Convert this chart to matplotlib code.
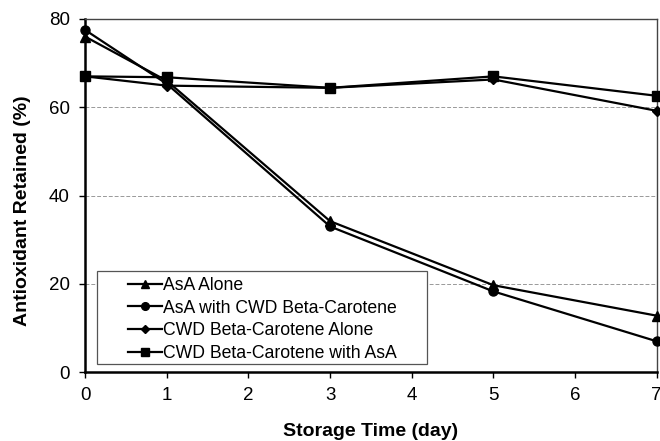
import matplotlib
matplotlib.use("Agg")
import matplotlib.pyplot as plt
from matplotlib.patches import Rectangle

plt.rcParams['font.family'] = ['Liberation Sans', 'DejaVu Sans']

days = [0, 1, 3, 5, 7]
asa_alone = [76.0, 66.0, 34.2, 19.7, 12.8]
asa_with_cwd = [77.5, 65.3, 33.0, 18.3, 7.0]
cwd_alone = [67.0, 64.9, 64.4, 66.3, 59.2]
cwd_with_asa = [67.0, 66.8, 64.4, 67.0, 62.6]
labels = ["AsA Alone", "AsA with CWD Beta-Carotene", "CWD Beta-Carotene Alone", "CWD Beta-Carotene with AsA"]
markers = ["^", "o", "D", "s"]
msizes = [6.5, 6.5, 5, 6.5]

fig = plt.figure(figsize=(6.6, 4.41), dpi=100)
ax = fig.add_axes([0.129, 0.156, 0.866, 0.801])

for y, lab, m, ms in zip([asa_alone, asa_with_cwd, cwd_alone, cwd_with_asa], labels, markers, msizes):
    ax.plot(days, y, color='black', lw=1.6, marker=m, markersize=ms, label=lab, clip_on=False, zorder=3)

ax.set_xlim(0, 7)
ax.set_ylim(0, 80)
ax.set_xticks(range(0, 8))
ax.set_yticks([0, 20, 40, 60, 80])
ax.tick_params(labelsize=13.5, length=4, width=1, direction='out', pad=7)
ax.yaxis.grid(True, color='#999999', linestyle=(0, (4, 2)), lw=0.7)
ax.set_axisbelow(True)
for s in ['left', 'bottom']:
    ax.spines[s].set_linewidth(1.8)
for s in ['top', 'right']:
    ax.spines[s].set_linewidth(1.0)
    ax.spines[s].set_color('#444444')

ax.set_xlabel("Storage Time (day)", fontsize=14, fontweight='bold')
ax.set_ylabel("Antioxidant Retained (%)", fontsize=14, fontweight='bold')
ax.xaxis.set_label_coords(0.5, -0.144)
ax.yaxis.set_label_coords(-0.095, 0.456)

ax.add_patch(Rectangle((0.021, 0.023), 0.577, 0.263, transform=ax.transAxes,
                       facecolor='white', edgecolor='#555555', lw=0.9, zorder=4))
leg = ax.legend(loc='upper left', bbox_to_anchor=(0.075, 0.27), fontsize=12.7, frameon=False,
                handlelength=1.9, handletextpad=0.1, labelspacing=0.33, borderpad=0.0,
                borderaxespad=0.0, markerscale=0.85)
leg.set_zorder(5)

fig.savefig("out.png", dpi=100)
